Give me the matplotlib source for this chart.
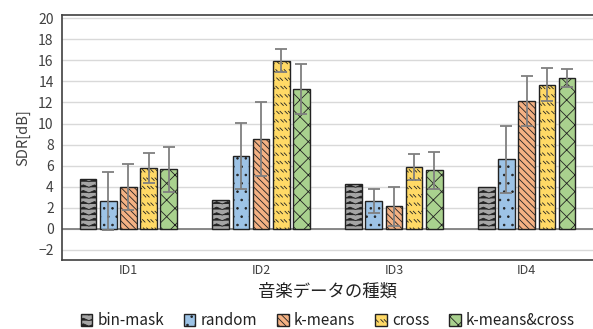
import numpy as np
import matplotlib
matplotlib.use("Agg")
import matplotlib.pyplot as plt
from matplotlib import hatch as mhatch
from matplotlib.path import Path

plt.rcParams['font.family'] = ['Noto Sans CJK JP', 'DejaVu Sans']
plt.rcParams['hatch.linewidth'] = 0.6


# Excel-like fill patterns that matplotlib does not ship:
# '|' -> horizontal zigzag, '-' -> short staggered diagonal dashes
class ZigZagHatch(mhatch.HatchPatternBase):
    def __init__(self, hatch, density):
        self.num_lines = int(hatch.count('|') * density)
        self.periods = 9
        self.num_vertices = self.num_lines * (2 * self.periods + 1)

    def set_vertices_and_codes(self, vertices, codes):
        n = 2 * self.periods + 1
        xs = np.linspace(0.0, 1.0, n)
        amp = 0.012
        wave = np.where(np.arange(n) % 2 == 0, -amp, amp)
        steps = (np.arange(self.num_lines) + 0.5) / self.num_lines
        for i, y in enumerate(steps):
            vertices[i * n:(i + 1) * n, 0] = xs
            vertices[i * n:(i + 1) * n, 1] = y + wave
            codes[i * n] = Path.MOVETO
            codes[i * n + 1:(i + 1) * n] = Path.LINETO


class DashHatch(mhatch.HatchPatternBase):
    def __init__(self, hatch, density):
        self.n = int(hatch.count('-') * density)
        self.num_vertices = self.n * self.n * 4

    def set_vertices_and_codes(self, vertices, codes):
        n = self.n
        d = 0.3 / n
        k = 0
        for r in range(n):
            y = (r + 0.5) / n
            shift = 0.5 / n if r % 2 else 0.0
            for c in range(n):
                x = (c + 0.2) / n + shift
                for x0 in (x, x + 0.4 / n):
                    xx = x0 % 1.0
                    vertices[k] = (xx, y + d / 2)
                    vertices[k + 1] = (xx + d, y - d / 2)
                    codes[k] = Path.MOVETO
                    codes[k + 1] = Path.LINETO
                    k += 2


mhatch._hatch_types = [t for t in mhatch._hatch_types
                       if t not in (mhatch.VerticalHatch, mhatch.HorizontalHatch)]
mhatch._hatch_types += [ZigZagHatch, DashHatch]

categories = ['ID1', 'ID2', 'ID3', 'ID4']
series = ['bin-mask', 'random', 'k-means', 'cross', 'k-means&cross']

bin_mask = [4.75, 2.75, 4.3, 4.0]
random_ = [2.65, 6.9, 2.65, 6.6]
kmeans = [4.0, 8.55, 2.15, 12.15]
cross = [5.8, 15.95, 5.9, 13.7]
kmeans_cross = [5.65, 13.3, 5.55, 14.3]

random_err = [2.75, 3.15, 1.1, 3.2]
kmeans_err = [2.2, 3.5, 1.85, 2.4]
cross_err = [1.45, 1.1, 1.25, 1.6]
kmeans_cross_err = [2.15, 2.35, 1.75, 0.87]

values = [bin_mask, random_, kmeans, cross, kmeans_cross]
errors = [None, random_err, kmeans_err, cross_err, kmeans_cross_err]
colors = ['#A5A5A5', '#9DC3E6', '#F4B183', '#FFD966', '#A9D18E']
hatches = ['|||', '..', '\\\\\\\\\\', '--', 'xx']

fig = plt.figure(figsize=(5.93, 3.29), dpi=100)
ax = fig.add_axes([0.1046, 0.2097, 0.8954, 0.7447])

x = np.arange(len(categories))
pitch = 0.152
width = 0.125
handles = []
for i, name in enumerate(series):
    pos = x + (i - 2) * pitch
    b = ax.bar(pos, values[i], width, color=colors[i], edgecolor='#222222',
               linewidth=1.0, hatch=hatches[i], label=name, zorder=3)
    handles.append(b)
    if errors[i] is not None:
        ax.errorbar(pos, values[i], yerr=errors[i], fmt='none',
                    ecolor='#7F7F7F', elinewidth=1.3, capsize=4.5,
                    capthick=1.3, zorder=4)

ax.set_xlim(-0.5, 3.5)
ax.set_ylim(-2.95, 20.3)
ax.set_yticks(np.arange(-2, 21, 2))
ax.set_xticks(x)
ax.set_xticklabels(categories, fontsize=9, color='#404040')
ax.tick_params(axis='y', labelsize=10, labelcolor='#404040', length=0, pad=6)
ax.tick_params(axis='x', length=0, pad=3)
ax.grid(axis='y', color='#D9D9D9', linewidth=1.0, zorder=0)
ax.set_axisbelow(True)
ax.axhline(0, color='#808080', linewidth=1.3, zorder=2)

for s in ['left', 'bottom', 'top']:
    ax.spines[s].set_color('#404040')
    ax.spines[s].set_linewidth(1.2)
ax.spines['right'].set_visible(False)

ax.set_ylabel('SDR[dB]', fontsize=10.5, color='#404040', labelpad=6)
ax.set_xlabel('音楽データの種類', fontsize=12.5, color='#222222', labelpad=4)

fig.legend(handles=handles, labels=series, loc='center', ncol=5,
           bbox_to_anchor=(0.553, 0.025), frameon=False, fontsize=11,
           handlelength=0.75, handleheight=0.75, handletextpad=0.35,
           columnspacing=1.3, borderpad=0.1, labelcolor='#222222')

fig.savefig('out.png', dpi=100)
